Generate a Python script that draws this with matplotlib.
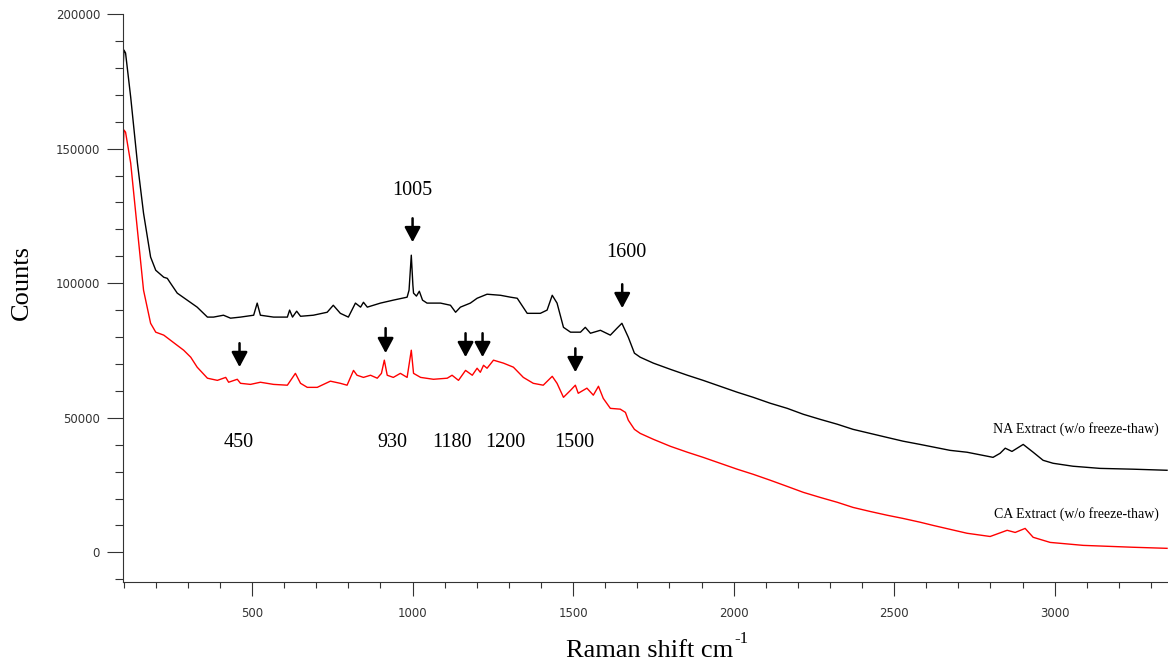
# Raman spectra of NA and CA extracts (w/o freeze-thaw)

# 0 - IMPORTING PACKAGES
import matplotlib
matplotlib.use('Agg')
import matplotlib.pyplot as plt
from matplotlib.ticker import MultipleLocator

# 1 - DATA

# 1.1 NA Extract (black)
na_shift = [99, 101, 106, 122, 143, 162, 184, 200, 225, 236, 246, 267, 298, 329, 361, 380,
            411, 433, 464, 505, 516, 526, 567, 610, 617, 626, 639, 651, 691, 734, 753, 775,
            800, 822, 838, 847, 859, 900, 940, 983, 989, 996, 1001, 1003, 1012, 1021, 1031,
            1045, 1087, 1118, 1134, 1149, 1180, 1201, 1232, 1274, 1305, 1326, 1357, 1398,
            1419, 1435, 1450, 1470, 1492, 1523, 1538, 1554, 1585, 1616, 1637, 1652, 1672,
            1691, 1709, 1750, 1803, 1856, 1905, 1958, 2011, 2061, 2114, 2167, 2217, 2270,
            2323, 2372, 2425, 2478, 2528, 2581, 2674, 2727, 2808, 2830, 2846, 2867, 2902,
            2933, 2964, 2995, 3057, 3141, 3244, 3350]
na_counts = [181800, 186600, 185500, 169100, 144600, 126000, 109700, 104800, 102200, 101800,
             100000, 96300, 93700, 91100, 87400, 87400, 88100, 87000, 87400, 88100, 92600,
             88100, 87400, 87400, 90000, 87400, 89600, 87700, 88100, 89200, 91800, 88800,
             87400, 92600, 91100, 92900, 91100, 92600, 93700, 94800, 97400, 110400, 99200,
             96300, 95200, 97000, 93700, 92600, 92600, 91800, 89200, 91100, 92600, 94400,
             95900, 95500, 94800, 94400, 88800, 88800, 90000, 95500, 92600, 83600, 81800,
             81800, 83600, 81400, 82500, 80700, 83300, 85100, 79900, 74000, 72500, 70300,
             68000, 65800, 63900, 61700, 59500, 57600, 55400, 53500, 51300, 49400, 47600,
             45700, 44200, 42700, 41300, 40100, 37900, 37200, 35300, 36800, 38700, 37500,
             40100, 37200, 34200, 33100, 32000, 31200, 30900, 30500]

# 1.2 CA Extract (red)
ca_shift = [99, 101, 106, 122, 143, 162, 184, 200, 225, 246, 267, 287, 309, 329, 361, 392,
            418, 427, 454, 464, 495, 526, 567, 610, 635, 651, 672, 703, 744, 775, 796, 816,
            827, 847, 869, 890, 903, 912, 921, 940, 962, 983, 996, 1003, 1025, 1065, 1108,
            1123, 1143, 1165, 1186, 1201, 1211, 1221, 1232, 1252, 1283, 1314, 1345, 1376,
            1407, 1435, 1450, 1470, 1492, 1507, 1516, 1543, 1563, 1579, 1594, 1616, 1647,
            1663, 1672, 1691, 1709, 1750, 1803, 1856, 1905, 1958, 2011, 2061, 2114, 2167,
            2217, 2270, 2323, 2372, 2425, 2478, 2528, 2581, 2622, 2727, 2799, 2852, 2877,
            2908, 2933, 2986, 3089, 3244, 3350]
ca_counts = [150500, 156900, 156100, 144600, 119700, 97400, 85100, 81800, 80700, 78800,
             76900, 75100, 72500, 68800, 64700, 63900, 65000, 63200, 64300, 62800, 62400,
             63200, 62400, 62100, 66500, 62800, 61300, 61300, 63600, 62800, 62100, 67600,
             65800, 65000, 65800, 64700, 66500, 71400, 65800, 65000, 66500, 65000, 75100,
             66500, 65000, 64300, 64700, 65800, 63900, 67600, 65800, 68400, 66900, 69500,
             68400, 71400, 70300, 68800, 65000, 62800, 62100, 65400, 62800, 57600, 60200,
             62100, 59100, 61000, 58400, 61700, 57200, 53500, 53200, 52000, 49100, 45700,
             44200, 42000, 39400, 37200, 35300, 33100, 30900, 29000, 26800, 24500, 22300,
             20400, 18600, 16700, 15200, 13800, 12600, 11200, 10000, 7100, 5900, 8200, 7400,
             8900, 5600, 3700, 2600, 1900, 1500]

# 1.3 Peak annotations: label, label position, arrow x, arrow top, arrow tip
upper_labels = ['1005', '1600']
upper_label_x = [1000, 1666]
upper_label_y = [134600, 111500]
upper_arrow_x = [1000, 1653]
upper_arrow_top = [124100, 99600]
upper_arrow_tip = [115200, 90700]

lower_labels = ['450', '930', '1180', '1200', '1500']
lower_label_x = [458, 937, 1124, 1289, 1504]
lower_label_y = 41000
lower_arrow_x = [461, 916, 1165, 1218, 1507]
lower_arrow_top = [77700, 83300, 81400, 81400, 75800]
lower_arrow_tip = [68800, 74000, 72500, 72500, 66900]

series_names = ['NA Extract (w/o freeze-thaw)', 'CA Extract (w/o freeze-thaw)']
series_name_x = 3325
series_name_y = [45700, 14100]

# 2 - PLOT
serif = ['Liberation Serif', 'DejaVu Serif']

fig = plt.figure(figsize=(11.68, 6.63), dpi=100)
ax = fig.add_axes([0.1053, 0.1222, 0.8947, 0.8567])

ax.plot(na_shift, na_counts, color='black', lw=1.0)
ax.plot(ca_shift, ca_counts, color='#ff0000', lw=1.0)

ax.set_xlim(98, 3353)
ax.set_ylim(-11000, 200000)

# 2.1 Axes styling
for side in ['top', 'right']:
    ax.spines[side].set_visible(False)
ax.spines['left'].set_color('#333333')
ax.spines['bottom'].set_color('#333333')

ax.xaxis.set_major_locator(MultipleLocator(500))
ax.xaxis.set_minor_locator(MultipleLocator(100))
ax.yaxis.set_major_locator(MultipleLocator(50000))
ax.yaxis.set_minor_locator(MultipleLocator(10000))
ax.tick_params(axis='x', which='major', length=10, width=0.8, pad=8, colors='#333333', labelsize=8.5)
ax.tick_params(axis='x', which='minor', length=4.5, width=0.8, colors='#333333')
ax.tick_params(axis='y', which='major', length=11.5, width=0.8, pad=5, colors='#333333', labelsize=8.5)
ax.tick_params(axis='y', which='minor', length=5.8, width=0.8, colors='#333333')

fig.text(22 / 1168, 1 - 283 / 663, 'Counts', rotation=90, ha='center', va='center',
         fontsize=19, family=serif)

# x label with a small hyphen superscript, as in the original
xlab = fig.text(650 / 1168, 6 / 663, 'Raman shift cm', ha='center', va='baseline',
                fontsize=19, family=serif)
renderer = fig.canvas.get_renderer()
bb = xlab.get_window_extent(renderer=renderer)
fig.text((bb.x1 + 1) / 1168, 20 / 663, '-1', ha='left', va='baseline',
         fontsize=12, family=serif)

# 2.2 Peak arrows and labels
arrow_style = dict(arrowstyle='-|>,head_length=0.75,head_width=0.4', mutation_scale=12,
                   lw=1.8, color='black', shrinkA=0, shrinkB=0)

for i in range(len(upper_labels)):
    ax.text(upper_label_x[i], upper_label_y[i], upper_labels[i], ha='center', va='center',
            fontsize=14.5, family=serif)
    ax.annotate('', xy=(upper_arrow_x[i], upper_arrow_tip[i]),
                xytext=(upper_arrow_x[i], upper_arrow_top[i]), arrowprops=arrow_style)

for i in range(len(lower_labels)):
    ax.text(lower_label_x[i], lower_label_y, lower_labels[i], ha='center', va='center',
            fontsize=14.5, family=serif)
for i in range(len(lower_arrow_x)):
    ax.annotate('', xy=(lower_arrow_x[i], lower_arrow_tip[i]),
                xytext=(lower_arrow_x[i], lower_arrow_top[i]), arrowprops=arrow_style)

# 2.3 Series names next to the curves
for name, y in zip(series_names, series_name_y):
    ax.text(series_name_x, y, name, ha='right', va='center', fontsize=10, family=serif)

plt.savefig('out.png', dpi=100)
plt.close()
